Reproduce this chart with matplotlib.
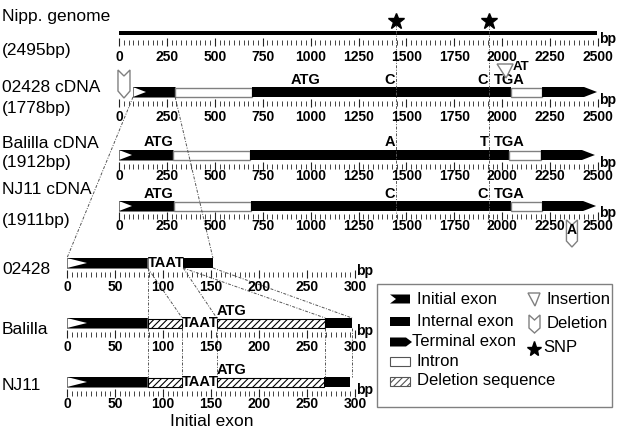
import matplotlib
matplotlib.use("Agg")
import matplotlib.pyplot as plt
from matplotlib.patches import Polygon, Rectangle
from matplotlib.transforms import Affine2D
import numpy as np

plt.rcParams['font.family'] = ['Liberation Sans', 'DejaVu Sans']
plt.rcParams['hatch.linewidth'] = 0.8

# ---------------- data ----------------
top_ticks = list(range(0, 2501, 250))
top_minor_step = 25
zoom_ticks = list(range(0, 301, 50))
zoom_minor_step = 5

track_labels = ["Nipp. genome", "02428 cDNA", "Balilla cDNA", "NJ11 cDNA"]
length_labels = ["(2495bp)", "(1778bp)", "(1912bp)", "(1911bp)"]
genome_length = 2495
snp_positions = [1446, 1931]
snp_bases_02428 = ["C", "C"]
snp_bases_balilla = ["A", "T"]
snp_bases_nj11 = ["C", "C"]

segments_02428 = [("initial", 73, 293), ("intron", 293, 695), ("internal", 695, 2046),
                  ("intron", 2046, 2208), ("terminal", 2208, 2495)]
segments_balilla = [("initial", 0, 282), ("intron", 282, 684), ("internal", 684, 2036),
                    ("intron", 2036, 2202), ("terminal", 2202, 2484)]
segments_nj11 = [("initial", 0, 287), ("intron", 287, 689), ("internal", 689, 2046),
                 ("intron", 2046, 2208), ("terminal", 2208, 2490)]
atg_positions = [971, 205, 205]
tga_positions = [2036, 2036, 2036]
insertion_02428 = 2015
insertion_bases = "AT"
deletion_02428 = 26
deletion_nj11 = 2364
deletion_nj11_base = "A"

zoom_labels = ["02428", "Balilla", "NJ11"]
zoom_02428 = [("initial", 0, 84), ("internal", 121, 152)]
zoom_balilla = [("initial", 0, 84), ("deletion", 84, 120), ("deletion", 156, 269), ("internal", 269, 297)]
zoom_nj11 = [("initial", 0, 84), ("deletion", 84, 120), ("deletion", 156, 268), ("internal", 268, 295)]
taat_positions = [84, 120, 120]
zoom_atg_positions = [156, 156]
# links 02428 -> Balilla (bp in zoom scale)
links_upper = [(84, 84), (84, 120), (121, 156), (121, 269), (152, 297)]
links_lower = [84, 120, 156, 269, 297]

legend_left = ["Initial exon", "Internal exon", "Terminal exon", "Intron", "Deletion sequence"]
legend_right = ["Insertion", "Deletion", "SNP"]

# ---------------- figure ----------------
fig = plt.figure(figsize=(6.17, 4.30), dpi=100)
ax = fig.add_axes([0, 0, 1, 1])
ax.set_xlim(0, 617)
ax.set_ylim(430, 0)
ax.axis('off')

TOP_X0, TOP_S = 119, 479 / 2500
ZM_X0, ZM_S = 67, 288 / 300
top_aff = Affine2D().scale(TOP_S, 1).translate(TOP_X0, 0)
zm_aff = Affine2D().scale(ZM_S, 1).translate(ZM_X0, 0)
top_tr = top_aff + ax.transData
zm_tr = zm_aff + ax.transData

GRAY = '#808080'
LINEC = '#555555'
DASH = (0, (3, 1.5, 1, 1.5))
BOLD = dict(fontweight='bold', fontsize=10)
ANN = dict(fontweight='bold', fontsize=10.5)
LAB = dict(fontsize=12.5)


def px(aff, v, y):
    return aff.transform((v, y))


def draw_ruler(tr, aff, ticks, step, y_top, label_y, vmax):
    vals = np.arange(0, vmax + 1, step)
    minor = [v for v in vals if v not in ticks]
    ax.vlines(minor, y_top + 2, y_top + 7, colors='#222222', lw=0.6, transform=tr)
    ax.vlines(ticks, y_top, y_top + 8, colors='#222222', lw=0.8, transform=tr)
    for t in ticks:
        ax.text(t, label_y, str(t), ha='center', va='center', transform=tr, **BOLD)
    x_end, _ = px(aff, vmax, 0)
    ax.text(x_end + 1.5, y_top + 1, "bp", ha='left', va='center', **BOLD)


def draw_segments(segs, tr, yc, h, notch, tip):
    top, bot = yc - h / 2, yc + h / 2
    for kind, s, e in segs:
        if kind == 'initial':
            ax.add_patch(Rectangle((s, top), e - s, h, facecolor='white', edgecolor='#444444',
                                   lw=0.5, transform=tr))
            ax.add_patch(Polygon([(s, top), (e, top), (e, bot), (s, bot), (s + notch, yc)],
                                 closed=True, facecolor='black', edgecolor='none', transform=tr))
        elif kind == 'internal':
            ax.add_patch(Rectangle((s, top), e - s, h, facecolor='black', edgecolor='none', transform=tr))
        elif kind == 'terminal':
            ax.add_patch(Polygon([(s, top), (e - tip, top), (e, yc), (e - tip, bot), (s, bot)],
                                 closed=True, facecolor='black', edgecolor='none', transform=tr))
        elif kind == 'intron':
            ax.add_patch(Rectangle((s, top + 0.5), e - s, h - 1, facecolor='white', edgecolor=GRAY,
                                   lw=1.0, transform=tr))
        elif kind == 'deletion':
            ax.add_patch(Rectangle((s, top + 0.5), e - s, h - 1, facecolor='white', edgecolor='black',
                                   hatch='/////', lw=0.8, transform=tr))


def deletion_marker(xc, ytop, w, hgt, notch, point):
    pts = [(xc - w / 2, ytop), (xc, ytop + notch), (xc + w / 2, ytop), (xc + w / 2, ytop + hgt - point),
           (xc, ytop + hgt), (xc - w / 2, ytop + hgt - point)]
    ax.add_patch(Polygon(pts, closed=True, facecolor='white', edgecolor=GRAY, lw=1.0, zorder=5))


def insertion_marker(xc, ytop, w, hgt):
    pts = [(xc - w / 2, ytop), (xc + w / 2, ytop), (xc + 1, ytop + hgt)]
    ax.add_patch(Polygon(pts, closed=True, facecolor='white', edgecolor=GRAY, lw=1.0, zorder=5))


# ---------------- top tracks ----------------
name_y = [17, 88, 143, 190]
len_y = [50, 109, 163, 221]
for lab, y in zip(track_labels, name_y):
    ax.text(2, y, lab, ha='left', va='center', **LAB)
for lab, y in zip(length_labels, len_y):
    ax.text(2, y, lab, ha='left', va='center', **LAB)

# SNP guide lines and stars
ax.vlines(snp_positions, 24, 228, colors=LINEC, lw=0.7, linestyles=[DASH], transform=top_tr)
ax.plot(snp_positions, [21, 21], linestyle='none', marker='*', ms=12, color='black', transform=top_tr)

# genome bar
ax.add_patch(Rectangle((0, 31), genome_length, 4, facecolor='black', edgecolor='none', transform=top_tr))
draw_ruler(top_tr, top_aff, top_ticks, top_minor_step, 38, 57, 2500)

bar_y = [92, 155, 206]
ruler_top = [99, 162, 212]
tick_lab_y = [117, 176, 226]
seg_sets = [segments_02428, segments_balilla, segments_nj11]
snp_sets = [snp_bases_02428, snp_bases_balilla, snp_bases_nj11]
notch_bp = 13 / TOP_S
tip_bp = 13 / TOP_S
for i in range(3):
    draw_segments(seg_sets[i], top_tr, bar_y[i], 10, notch_bp, tip_bp)
    draw_ruler(top_tr, top_aff, top_ticks, top_minor_step, ruler_top[i], tick_lab_y[i], 2500)
    ya = bar_y[i] - 5.5
    ax.text(atg_positions[i], ya, "ATG", ha='center', va='bottom', transform=top_tr, **ANN)
    ax.text(tga_positions[i], ya, "TGA", ha='center', va='bottom', transform=top_tr, **ANN)
    for p, b in zip(snp_positions, snp_sets[i]):
        ax.text(p - 3, ya, b, ha='right', va='bottom', transform=top_tr, **ANN)

# insertion (02428)
xi, _ = px(top_aff, insertion_02428, 0)
insertion_marker(xi, 64, 16, 14)
ax.text(xi + 8, 67.5, insertion_bases, ha='left', va='center', fontweight='bold', fontsize=9.5)
# deletion markers
xd, _ = px(top_aff, deletion_02428, 0)
deletion_marker(xd, 70, 12, 28, 6, 7)
xd2, _ = px(top_aff, deletion_nj11, 0)
deletion_marker(xd2, 220, 11, 27, 5, 6)
ax.text(xd2, 230, deletion_nj11_base, ha='center', va='center', zorder=6, **BOLD)

# funnel lines from top 02428 to zoom 02428
zb_y = [263, 323, 382]
x1, _ = px(top_aff, segments_02428[0][1], 0)
x2, _ = px(zm_aff, 0, 0)
ax.plot([x1, x2], [97, zb_y[0] - 5], color=LINEC, lw=0.7, linestyle=DASH)
x1, _ = px(top_aff, segments_02428[0][2], 0)
x2, _ = px(zm_aff, zoom_02428[-1][2], 0)
ax.plot([x1, x2], [97, zb_y[0] - 5], color=LINEC, lw=0.7, linestyle=DASH)

# ---------------- zoom tracks ----------------
zname_y = [269, 329, 386]
zr_top = [270, 330, 389]
zlab_y = [287, 347, 404]
zsets = [zoom_02428, zoom_balilla, zoom_nj11]
for i in range(3):
    ax.text(2, zname_y[i], zoom_labels[i], ha='left', va='center', **LAB)
    draw_segments(zsets[i], zm_tr, zb_y[i], 10, 20 / ZM_S, 10)
    draw_ruler(zm_tr, zm_aff, zoom_ticks, zoom_minor_step, zr_top[i], zlab_y[i], 300)
    ax.text(taat_positions[i], zb_y[i], "TAAT", ha='left', va='center', transform=zm_tr, **ANN)
for i, p in enumerate(zoom_atg_positions):
    ax.text(p, zb_y[i + 1] - 5, "ATG", ha='left', va='bottom', transform=zm_tr, **ANN)

for a, b in links_upper:
    xa, _ = px(zm_aff, a, 0)
    xb, _ = px(zm_aff, b, 0)
    ax.plot([xa, xb], [zb_y[0] + 5, zb_y[1] - 5], color=LINEC, lw=0.7, linestyle=DASH)
ax.vlines(links_lower, zb_y[1] + 5, zb_y[2] - 5, colors=LINEC, lw=0.7, linestyles=[DASH], transform=zm_tr)

ax.text(212, 421, "Initial exon", ha='center', va='center', fontsize=12.5)

# ---------------- legend ----------------
ax.add_patch(Rectangle((377, 284), 235, 123, facecolor='white', edgecolor=GRAY, lw=1.0, zorder=3))
leg_y = [299, 321, 342, 361, 381]
ix0, ix1, ih = 390, 410, 9
for kind, y in zip(['initial', 'internal', 'terminal', 'intron', 'deletion'], leg_y):
    t, b = y - ih / 2, y + ih / 2
    if kind == 'initial':
        ax.add_patch(Polygon([(ix0, t), (ix1, t), (ix1, b), (ix0, b), (ix0 + 6, y)], closed=True,
                             facecolor='black', edgecolor='none', zorder=4))
    elif kind == 'internal':
        ax.add_patch(Rectangle((ix0, t), ix1 - ix0, ih, facecolor='black', edgecolor='none', zorder=4))
    elif kind == 'terminal':
        ax.add_patch(Polygon([(ix0, t), (ix1 - 4, t), (ix1 + 2, y), (ix1 - 4, b), (ix0, b)], closed=True,
                             facecolor='black', edgecolor='none', zorder=4))
    elif kind == 'intron':
        ax.add_patch(Rectangle((ix0, t), ix1 - ix0, ih, facecolor='white', edgecolor='#555555', lw=0.8, zorder=4))
    else:
        ax.add_patch(Rectangle((ix0, t), ix1 - ix0, ih, facecolor='white', edgecolor='#555555',
                               hatch='/////', lw=0.8, zorder=4))
for lab, y in zip(legend_left, leg_y):
    ax.text(ix1 + 2 if lab == "Terminal exon" else 417, y, lab, ha='left', va='center', fontsize=12, zorder=5)

insertion_marker(534, 293, 12, 13)
deletion_marker(534.5, 315, 11, 18, 5, 5)
ax.plot([534], [349], marker='*', ms=11, color='black', zorder=5)
for lab, y in zip(legend_right, [299, 323, 348]):
    ax.text(547 if lab != "SNP" else 543, y, lab, ha='left', va='center', fontsize=12, zorder=5)

fig.savefig("out.png", dpi=100)
